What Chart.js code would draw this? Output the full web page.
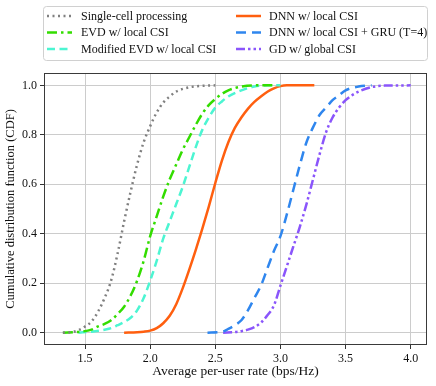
<!DOCTYPE html>
<html>
<head>
<meta charset="utf-8">
<script src="https://cdn.jsdelivr.net/npm/chart.js@4.4.1/dist/chart.umd.min.js"></script>
<style>
  html, body { margin: 0; padding: 0; background: #fff; }
  #wrap { width: 436px; height: 386px; }
</style>
</head>
<body>
<div id="wrap"><canvas id="cdf" width="436" height="386"></canvas></div>
<script>
const rateTicks = [1.5, 2.0, 2.5, 3.0, 3.5, 4.0];
const cdfTicks = [0, 0.2, 0.4, 0.6, 0.8, 1.0];

const singleRate = [1.33, 1.40, 1.45, 1.50, 1.55, 1.60, 1.65, 1.70, 1.75, 1.80, 1.85, 1.90, 1.95, 2.00, 2.05, 2.10, 2.15, 2.20, 2.30, 2.40, 2.50];
const singleCdf = [0, 0.002, 0.01, 0.025, 0.045, 0.085, 0.14, 0.21, 0.32, 0.45, 0.57, 0.68, 0.77, 0.835, 0.89, 0.93, 0.955, 0.975, 0.992, 0.998, 1.0];

const evdRate = [1.33, 1.45, 1.55, 1.60, 1.65, 1.70, 1.75, 1.80, 1.85, 1.90, 1.95, 2.00, 2.05, 2.10, 2.15, 2.20, 2.25, 2.30, 2.35, 2.40, 2.45, 2.50, 2.55, 2.60, 2.70, 2.80, 2.95];
const evdCdf = [0, 0.003, 0.012, 0.025, 0.035, 0.05, 0.075, 0.105, 0.15, 0.21, 0.29, 0.39, 0.47, 0.55, 0.62, 0.68, 0.74, 0.79, 0.84, 0.885, 0.92, 0.945, 0.965, 0.98, 0.995, 1.0, 1.0];

const modEvdRate = [1.45, 1.55, 1.65, 1.70, 1.75, 1.80, 1.85, 1.90, 1.95, 2.00, 2.05, 2.10, 2.15, 2.20, 2.25, 2.30, 2.35, 2.40, 2.45, 2.50, 2.55, 2.60, 2.70, 2.80, 2.90, 3.00];
const modEvdCdf = [0, 0.004, 0.012, 0.018, 0.03, 0.043, 0.06, 0.09, 0.14, 0.21, 0.29, 0.38, 0.45, 0.52, 0.59, 0.67, 0.75, 0.82, 0.87, 0.91, 0.935, 0.955, 0.98, 0.995, 1.0, 1.0];

const dnnRate = [1.80, 1.90, 1.95, 2.00, 2.05, 2.10, 2.15, 2.20, 2.25, 2.30, 2.35, 2.40, 2.45, 2.50, 2.55, 2.60, 2.65, 2.70, 2.75, 2.80, 2.85, 2.90, 2.95, 3.00, 3.05, 3.26];
const dnnCdf = [0, 0.002, 0.004, 0.008, 0.018, 0.038, 0.068, 0.115, 0.18, 0.255, 0.335, 0.42, 0.51, 0.605, 0.695, 0.77, 0.828, 0.87, 0.905, 0.933, 0.955, 0.974, 0.988, 0.997, 1.0, 1.0];

const gruRate = [2.44, 2.55, 2.60, 2.65, 2.70, 2.75, 2.80, 2.85, 2.90, 2.95, 3.00, 3.05, 3.10, 3.15, 3.20, 3.25, 3.30, 3.35, 3.40, 3.45, 3.50, 3.60, 3.70];
const gruCdf = [0, 0.003, 0.015, 0.03, 0.05, 0.09, 0.14, 0.19, 0.26, 0.33, 0.39, 0.48, 0.58, 0.68, 0.77, 0.83, 0.88, 0.91, 0.94, 0.96, 0.98, 0.995, 1.0];

const gdRate = [2.56, 2.65, 2.70, 2.75, 2.80, 2.85, 2.90, 2.95, 3.00, 3.05, 3.10, 3.15, 3.20, 3.25, 3.30, 3.35, 3.40, 3.45, 3.50, 3.55, 3.60, 3.70, 3.80, 4.00];
const gdCdf = [0, 0.002, 0.006, 0.012, 0.022, 0.04, 0.07, 0.11, 0.19, 0.27, 0.35, 0.43, 0.52, 0.62, 0.72, 0.81, 0.87, 0.91, 0.94, 0.96, 0.975, 0.993, 0.999, 1.0];

const toPoints = (xs, ys) => xs.map((x, i) => ({ x: x, y: ys[i] }));

const serif = "'Liberation Serif', 'DejaVu Serif', serif";

const series = [
  { label: 'Single-cell processing', x: singleRate, y: singleCdf, color: '#808080', dash: [2, 3.5] },
  { label: 'EVD w/ local CSI', x: evdRate, y: evdCdf, color: '#33dd00', dash: [10, 4, 2.5, 4] },
  { label: 'Modified EVD w/ local CSI', x: modEvdRate, y: modEvdCdf, color: '#4cf5d2', dash: [8, 4.5] },
  { label: 'DNN w/ local CSI', x: dnnRate, y: dnnCdf, color: '#ff5f0f', dash: [] },
  { label: 'DNN w/ local CSI + GRU (T=4)', x: gruRate, y: gruCdf, color: '#2f86ee', dash: [10, 6] },
  { label: 'GD w/ global CSI', x: gdRate, y: gdCdf, color: '#8a55fb', dash: [9, 3, 2.5, 3, 2.5, 3] },
];

// box around the plot, like matplotlib spines
const frame = {
  id: 'frame',
  afterDatasetsDraw(chart) {
    const a = chart.chartArea;
    const ctx = chart.ctx;
    ctx.save();
    ctx.strokeStyle = '#3a3a3a';
    ctx.lineWidth = 1;
    ctx.strokeRect(a.left + 0.5, a.top + 0.5, a.right - a.left - 1, a.bottom - a.top - 1);
    ctx.restore();
  },
};

// two-column legend above the axes
const legendBox = {
  id: 'legendBox',
  afterDraw(chart) {
    const ctx = chart.ctx;
    ctx.save();
    const bx = 43.5, by = 6.5, bw = 384, bh = 54;
    ctx.beginPath();
    ctx.roundRect(bx, by, bw, bh, 3);
    ctx.fillStyle = '#fff';
    ctx.fill();
    ctx.strokeStyle = '#d0d0d0';
    ctx.lineWidth = 1;
    ctx.stroke();

    const cols = [{ lx: 47, tx: 81 }, { lx: 236, tx: 269 }];
    const rows = [16, 32.5, 49];
    ctx.font = '12px ' + serif;
    ctx.textBaseline = 'middle';
    series.forEach((s, i) => {
      const c = cols[Math.floor(i / 3)];
      const yy = rows[i % 3];
      ctx.beginPath();
      ctx.setLineDash(s.dash);
      ctx.strokeStyle = s.color;
      ctx.lineWidth = 2.5;
      ctx.moveTo(c.lx, yy);
      ctx.lineTo(c.lx + 25, yy);
      ctx.stroke();
      ctx.setLineDash([]);
      ctx.fillStyle = '#111';
      ctx.fillText(s.label, c.tx, yy + 0.5);
    });
    ctx.restore();
  },
};

new Chart(document.getElementById('cdf'), {
  type: 'line',
  data: {
    datasets: series.map(s => ({
      label: s.label,
      data: toPoints(s.x, s.y),
      borderColor: s.color,
      backgroundColor: s.color,
      borderDash: s.dash,
      borderWidth: 2.5,
      pointRadius: 0,
      cubicInterpolationMode: 'monotone',
      fill: false,
    })),
  },
  options: {
    responsive: false,
    animation: false,
    layout: { padding: { top: 73, right: 9, left: 0, bottom: 0 } },
    plugins: {
      legend: { display: false },
      tooltip: { enabled: false },
    },
    scales: {
      x: {
        type: 'linear',
        min: 1.185,
        max: 4.125,
        afterBuildTicks: scale => { scale.ticks = rateTicks.map(v => ({ value: v })); },
        afterFit: scale => { scale.height = 41; },
        grid: { color: '#cccccc', lineWidth: 1, tickLength: 4, tickColor: '#333' },
        border: { display: false },
        ticks: {
          color: '#111',
          font: { family: serif, size: 12 },
          padding: 3,
          maxRotation: 0,
          callback: v => v.toFixed(1),
        },
        title: {
          display: true,
          text: 'Average per-user rate (bps/Hz)',
          color: '#111',
          font: { family: serif, size: 13.5 },
          padding: { top: 0, bottom: 6 },
        },
      },
      y: {
        type: 'linear',
        min: -0.05,
        max: 1.05,
        afterBuildTicks: scale => { scale.ticks = cdfTicks.map(v => ({ value: v })); },
        afterFit: scale => { scale.width = 44; },
        grid: { color: '#cccccc', lineWidth: 1, tickLength: 4, tickColor: '#333' },
        border: { display: false },
        ticks: {
          color: '#111',
          font: { family: serif, size: 12 },
          padding: 3,
          callback: v => v.toFixed(1),
        },
        title: {
          display: true,
          text: 'Cumulative distribution function (CDF)',
          color: '#111',
          font: { family: serif, size: 12.5 },
          padding: { top: 3, bottom: 0 },
        },
      },
    },
  },
  plugins: [frame, legendBox],
});
</script>
</body>
</html>
